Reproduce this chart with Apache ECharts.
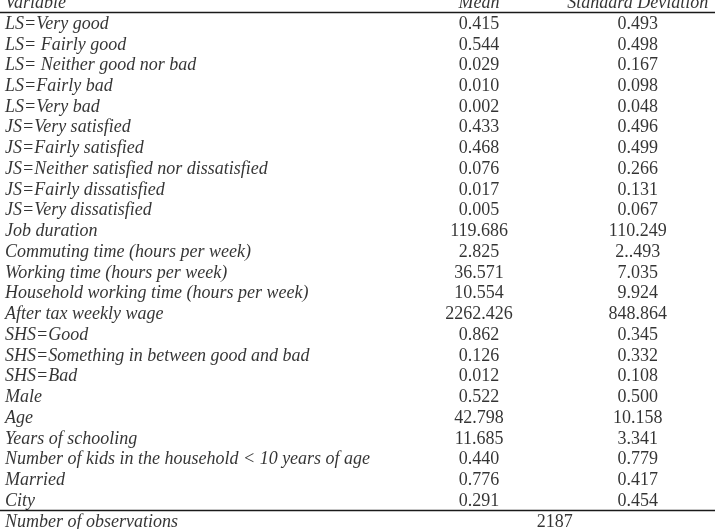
<!DOCTYPE html>
<html>
<head>
<meta charset="utf-8">
<script src="https://cdn.jsdelivr.net/npm/echarts@6/dist/echarts.min.js"></script>
<style>html,body{margin:0;padding:0;background:#fff;}#c{width:723px;height:529px;}</style>
</head>
<body>
<div id="c"></div>
<script>
// ---- data ----
const headerLabel = 'Variable';
const columnHeaders = ['Mean', 'Standard Deviation'];
const variables = [
  'LS=Very good', 'LS= Fairly good', 'LS= Neither good nor bad', 'LS=Fairly bad', 'LS=Very bad',
  'JS=Very satisfied', 'JS=Fairly satisfied', 'JS=Neither satisfied nor dissatisfied', 'JS=Fairly dissatisfied', 'JS=Very dissatisfied',
  'Job duration', 'Commuting time (hours per week)', 'Working time (hours per week)',
  'Household working time (hours per week)', 'After tax weekly wage',
  'SHS=Good', 'SHS=Something in between good and bad', 'SHS=Bad',
  'Male', 'Age', 'Years of schooling', 'Number of kids in the household < 10 years of age', 'Married', 'City'
];
const means = ['0.415','0.544','0.029','0.010','0.002','0.433','0.468','0.076','0.017','0.005',
  '119.686','2.825','36.571','10.554','2262.426','0.862','0.126','0.012','0.522','42.798','11.685','0.440','0.776','0.291'];
const sds = ['0.493','0.498','0.167','0.098','0.048','0.496','0.499','0.266','0.131','0.067',
  '110.249','2..493','7.035','9.924','848.864','0.345','0.332','0.108','0.500','10.158','3.341','0.779','0.417','0.454'];
const obsLabel = 'Number of observations';
const obsValue = '2187';

// ---- layout (column positions as % of table width, rows by index) ----
const COL_VAR = 0.7, COL_MEAN = 67.0, COL_SD = 89.2, COL_OBS = 77.6;
const Y_MIN = -0.159, Y_MAX = 25.347;   // visible row range (table is cropped top & bottom)
const RULE_TOP = 0.45, RULE_BOTTOM = 24.43;

const rows = [headerLabel].concat(variables, [obsLabel]);
const serif = 'Liberation Serif, Times New Roman, serif';
const FS = 18;

const nameData = rows.map((r, i) => [COL_VAR, i, r]);
const headerData = [[COL_MEAN, 0, columnHeaders[0]], [COL_SD, 0, columnHeaders[1]]];
const bodyData = [];
variables.forEach((v, i) => {
  bodyData.push([COL_MEAN, i + 1, means[i]]);
  bodyData.push([COL_SD, i + 1, sds[i]]);
});
bodyData.push([COL_OBS, rows.length - 1, obsValue]);

const labelCfg = (style, align) => ({
  show: true, position: [0, 0], align: align, verticalAlign: 'middle',
  formatter: p => p.data[2],
  color: '#000', fontFamily: serif, fontSize: FS, fontStyle: style
});

const chart = echarts.init(document.getElementById('c'), null, {renderer: 'canvas'});
chart.setOption({
  animation: false,
  grid: {left: 0, right: 8, top: 0, bottom: 0, containLabel: false},
  xAxis: {type: 'value', min: 0, max: 100, show: false},
  yAxis: {type: 'value', min: Y_MIN, max: Y_MAX, inverse: true, show: false},
  series: [
    {type: 'scatter', symbolSize: 0, data: nameData, label: labelCfg('italic', 'left'), silent: true,
     markLine: {silent: true, symbol: 'none', label: {show: false},
       lineStyle: {color: '#1a1a1a', width: 1.4, type: 'solid'},
       data: [{yAxis: RULE_TOP}, {yAxis: RULE_BOTTOM}]}},
    {type: 'scatter', symbolSize: 0, data: headerData, label: labelCfg('italic', 'center'), silent: true},
    {type: 'scatter', symbolSize: 0, data: bodyData, label: labelCfg('normal', 'center'), silent: true}
  ]
});
</script>
</body>
</html>
